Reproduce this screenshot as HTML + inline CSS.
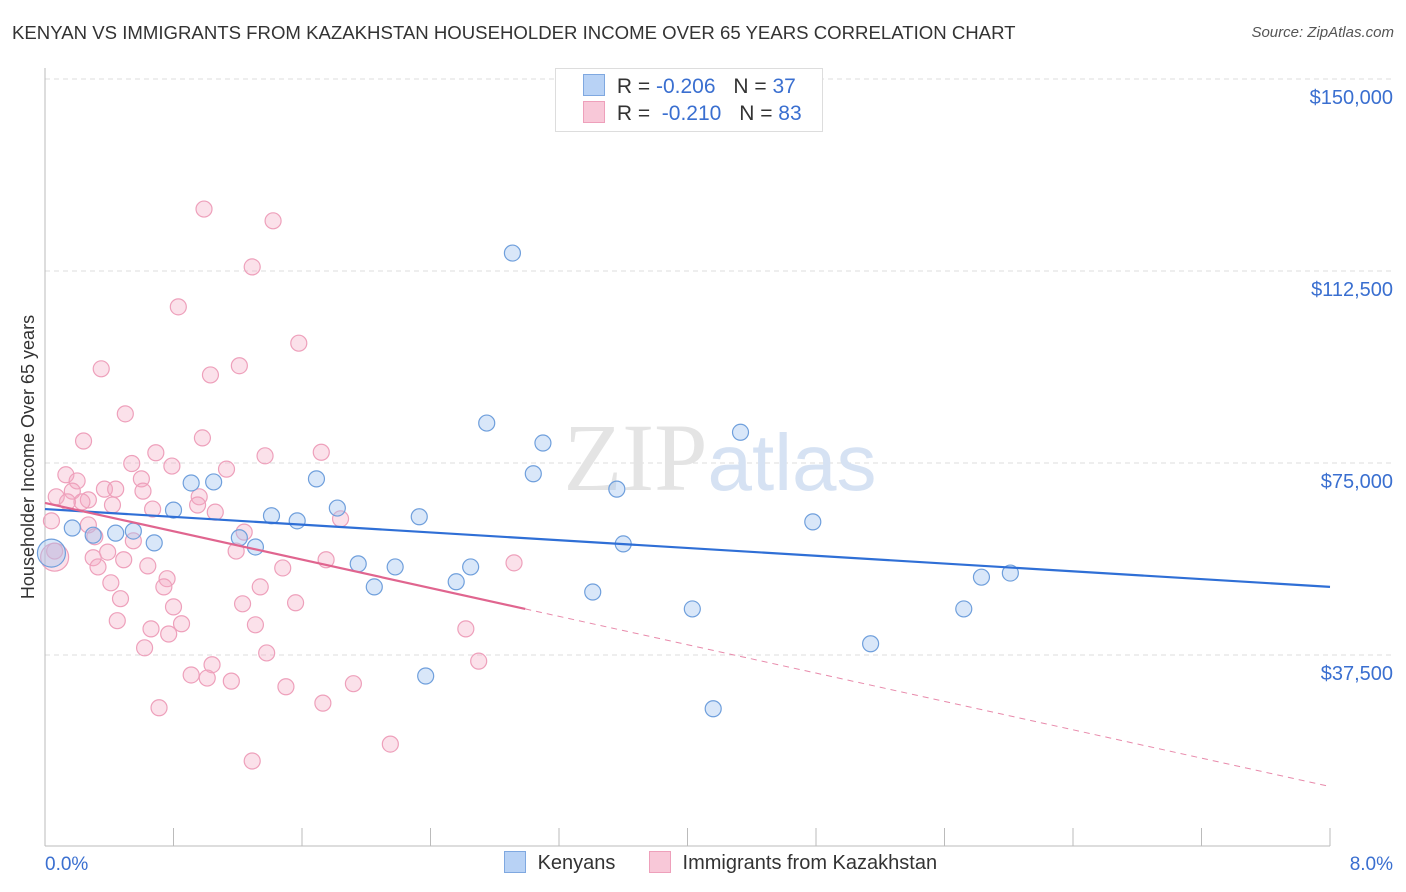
<!DOCTYPE html>
<html><head><meta charset="utf-8">
<style>
body{margin:0;background:#fff;font-family:"Liberation Sans",sans-serif;}
#wrap{position:relative;width:1406px;height:892px;overflow:hidden;}
.t{position:absolute;white-space:nowrap;}
</style></head>
<body>
<div id="wrap">
<div class="t" style="left:12px;top:22px;font-size:18.6px;color:#333;">KENYAN VS IMMIGRANTS FROM KAZAKHSTAN HOUSEHOLDER INCOME OVER 65 YEARS CORRELATION CHART</div>
<div class="t" style="right:12px;top:24px;font-size:15px;color:#555;font-style:italic;">Source: ZipAtlas.com</div>
<svg id="svg" width="1406" height="892" style="position:absolute;left:0;top:0"></svg>
</div>
<script>
const categories=["Kenyans","Immigrants from Kazakhstan"];
const yTicks=[37500,75000,112500,150000];
const yTickLabels=["$37,500","$75,000","$112,500","$150,000"];
const xTickLabels=["0.0%","8.0%"];
const blueX=[2.91,2.75,3.10,4.33,3.04,3.56,1.69,1.05,0.91,0.80,1.82,1.41,1.57,2.33,4.78,0.17,0.44,0.55,0.30,0.68,1.21,1.31,3.60,1.95,2.18,2.65,2.56,2.05,3.41,5.83,6.01,4.03,5.72,5.14,2.37,4.16,0.04];
const blueY=[116000,82800,78900,81000,72900,69900,71900,71300,71100,65800,66200,64700,63700,64500,63500,62300,61300,61700,60900,59400,60400,58600,59200,55300,54700,54700,51800,50800,49800,52700,53500,46500,46500,39700,33400,27000,57400];
const pinkX=[0.99,1.42,1.29,0.83,1.58,0.35,1.21,1.03,0.50,0.24,0.98,0.69,1.37,1.72,0.54,0.79,1.13,0.13,0.20,0.60,0.37,0.44,0.61,0.17,0.07,0.27,0.14,0.23,0.96,0.42,0.95,0.67,1.06,1.84,0.04,0.27,1.24,0.31,0.55,0.06,0.39,1.19,0.30,0.49,1.75,2.92,0.33,0.64,1.48,0.76,0.74,0.41,1.34,0.47,0.80,1.23,1.56,0.45,1.31,0.66,0.85,0.77,2.62,0.62,1.38,1.04,2.70,0.91,1.01,1.16,1.50,1.92,1.73,0.71,2.15,1.29,0.06];
const pinkY=[124600,122300,113300,105500,98400,93400,94000,92200,84600,79300,79900,77000,76400,77100,74900,74400,73800,72700,71500,71900,69900,69900,69500,69500,68400,67800,67400,67400,68400,66800,66800,66000,65400,64100,63700,62900,61500,60600,59800,57800,57600,57800,56500,56100,56100,55500,54700,54900,54500,52400,50800,51600,50800,48500,46900,47500,47700,44200,43400,42600,43600,41600,42600,38900,37900,35600,36300,33600,33000,32400,31300,31900,28100,27200,20100,16800,56600];
const blueTrend=[66000,50800];
const pinkTrend=[67200,46500];
const pinkSolidEnd=2.99;

const X0=45,X1=1330,Y150=79,PX=192/37500;
const xs=v=>X0+(X1-X0)*v/8;
const ys=v=>Y150+(150000-v)*PX;
const svg=document.getElementById('svg');
const NS='http://www.w3.org/2000/svg';
function mk(tag,attrs,parent){const e=document.createElementNS(NS,tag);for(const k in attrs)e.setAttribute(k,attrs[k]);(parent||svg).appendChild(e);return e;}

yTicks.forEach((t,i)=>{
  const g=mk('line',{x1:X0,x2:1395,y1:ys(t),y2:ys(t),stroke:'#ddd','stroke-dasharray':'5,4'});
  
  
  const tx=mk('text',{x:1393,y:ys(t)+25,'text-anchor':'end','font-size':'20',fill:'#3a6fd0','font-family':'Liberation Sans'});
  tx.textContent=yTickLabels[i];
  
  
});
const ax=mk('line',{x1:X0,x2:X0,y1:68,y2:846,stroke:'#bbb'});


const bx=mk('line',{x1:X0,x2:X1,y1:846,y2:846,stroke:'#bbb'});


for(let i=0;i<=10;i++){
  const tk=mk('line',{x1:xs(i*0.8),x2:xs(i*0.8),y1:828,y2:846,stroke:'#bbb'});
  
  
}
[[0,'start'],[8,'end']].forEach((p,i)=>{
  const tx=mk('text',{x:i?1393:45,y:870,'text-anchor':p[1],'font-size':'19',fill:'#3a6fd0','font-family':'Liberation Sans'});
  tx.textContent=xTickLabels[i];
  
  
});
const yt=mk('text',{x:0,y:0,transform:'translate(34,457) rotate(-90)','text-anchor':'middle','font-size':'18',fill:'#333','font-family':'Liberation Sans'});
yt.textContent='Householder Income Over 65 years';


const wm=mk('text',{x:720,y:490,'text-anchor':'middle','font-size':'96',fill:'#e4e4e4','font-family':'Liberation Serif'});
wm.innerHTML='ZIP<tspan fill="#d6e2f3" font-family="Liberation Sans" font-size="80">atlas</tspan>';



function pts(X,Y,fill,stroke,name){
  X.forEach((x,i)=>{
    const big=(x<0.08&&i===X.length-1);
    const c=mk('circle',{cx:xs(x),cy:ys(Y[i]),r:big?14:8,fill:fill,stroke:stroke,'stroke-width':1.2});
    
    
  });
}
pts(pinkX,pinkY,'rgba(244,170,195,0.35)','#eea0bb','pink-point');
pts(blueX,blueY,'rgba(160,195,240,0.4)','#6f9fdc','blue-point');

const bl=mk('line',{x1:xs(0),y1:ys(blueTrend[0]),x2:xs(8),y2:ys(blueTrend[1]),stroke:'#2f6fd6','stroke-width':2.2});


const slope=(pinkTrend[1]-pinkTrend[0])/pinkSolidEnd;
const pl=mk('line',{x1:xs(0),y1:ys(pinkTrend[0]),x2:xs(pinkSolidEnd),y2:ys(pinkTrend[1]),stroke:'#e0658f','stroke-width':2.2});


const pd=mk('line',{x1:xs(pinkSolidEnd),y1:ys(pinkTrend[1]),x2:xs(8),y2:ys(pinkTrend[0]+slope*8),stroke:'#e88aab','stroke-width':1,'stroke-dasharray':'6,5'});


</script>
<div class="t" style="left:555px;top:68px;width:266px;height:62px;border:1px solid #ddd;background:#fff;font-size:21px;">
  <div style="position:absolute;left:27px;top:5px;">
    <span style="display:inline-block;width:20px;height:20px;background:#b8d2f5;border:1px solid #7fa8e0;vertical-align:-3px;"></span>
    <span style="color:#333;margin-left:6px;">R = </span><span style="color:#3a6fd0;">-0.206</span>
    <span style="color:#333;margin-left:12px;">N = </span><span style="color:#3a6fd0;">37</span>
  </div>
  <div style="position:absolute;left:27px;top:32px;">
    <span style="display:inline-block;width:20px;height:20px;background:#f8c8d8;border:1px solid #eea0bb;vertical-align:-3px;"></span>
    <span style="color:#333;margin-left:6px;">R = </span><span style="color:#3a6fd0;">&nbsp;-0.210</span>
    <span style="color:#333;margin-left:12px;">N = </span><span style="color:#3a6fd0;">83</span>
  </div>
</div>
<div class="t" style="left:504px;top:851px;font-size:20px;color:#333;">
  <span><span style="display:inline-block;width:20px;height:20px;background:#b8d2f5;border:1px solid #7fa8e0;vertical-align:-4px;"></span> <span style="margin-left:6px;">Kenyans</span></span>
  <span style="margin-left:28px;"><span style="display:inline-block;width:20px;height:20px;background:#f8c8d8;border:1px solid #eea0bb;vertical-align:-4px;"></span> <span style="margin-left:6px;">Immigrants from Kazakhstan</span></span>
</div>
</body></html>
